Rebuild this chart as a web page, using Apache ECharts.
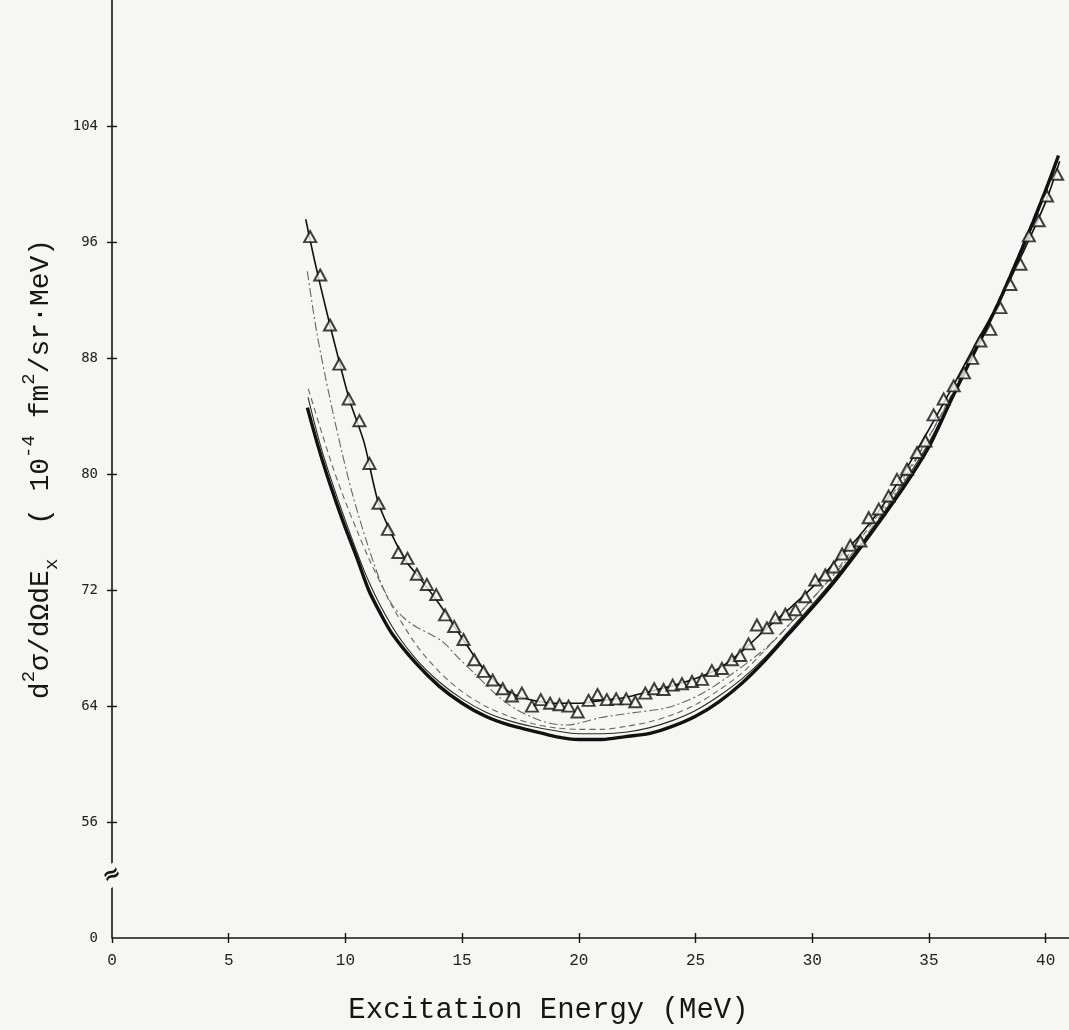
<!DOCTYPE html>
<html>
<head>
<meta charset="utf-8">
<script src="https://cdn.jsdelivr.net/npm/echarts@6/dist/echarts.min.js"></script>
<style>
html,body{margin:0;padding:0;background:#f6f6f4;}
#chart{width:1069px;height:1030px;}
</style>
</head>
<body>
<div id="chart"></div>
<script>
// ---- tick labels ----
const xTickValues = [0, 5, 10, 15, 20, 25, 30, 35, 40];
const yTickValues = [0, 56, 64, 72, 80, 88, 96, 104];

// ---- experimental points (triangles) ----
const expX = [8.49, 8.92, 9.34, 9.74, 10.14, 10.6, 11.03, 11.42, 11.82, 12.27, 12.66, 13.06, 13.49, 13.89, 14.27, 14.66, 15.06, 15.52, 15.92, 16.31, 16.74, 17.13, 17.56, 17.99, 18.37, 18.77, 19.17, 19.56, 19.95, 20.42, 20.8, 21.2, 21.6, 22.03, 22.42, 22.85, 23.23, 23.63, 24.02, 24.42, 24.85, 25.28, 25.7, 26.13, 26.56, 26.91, 27.27, 27.63, 28.06, 28.42, 28.85, 29.28, 29.7, 30.13, 30.56, 30.92, 31.28, 31.63, 32.06, 32.42, 32.85, 33.27, 33.63, 34.06, 34.49, 34.85, 35.2, 35.63, 36.06, 36.5, 36.85, 37.2, 37.63, 38.06, 38.49, 38.92, 39.28, 39.7, 40.06, 40.49];
const expY = [96.4, 93.75, 90.3, 87.6, 85.2, 83.7, 80.75, 78.0, 76.2, 74.6, 74.2, 73.1, 72.4, 71.7, 70.3, 69.5, 68.6, 67.2, 66.4, 65.8, 65.2, 64.7, 64.9, 64.0, 64.45, 64.2, 64.1, 64.0, 63.6, 64.4, 64.8, 64.45, 64.5, 64.5, 64.3, 64.9, 65.2, 65.15, 65.45, 65.55, 65.7, 65.85, 66.45, 66.6, 67.2, 67.5, 68.3, 69.6, 69.4, 70.1, 70.35, 70.65, 71.55, 72.7, 73.05, 73.6, 74.5, 75.1, 75.4, 77.0, 77.6, 78.5, 79.65, 80.35, 81.5, 82.3, 84.1, 85.2, 86.1, 87.0, 88.0, 89.2, 90.0, 91.5, 93.1, 94.5, 96.45, 97.5, 99.2, 100.7];

// ---- fitted curve through the points (thin solid) ----
const fitX = [8.3, 8.7, 9.2, 9.7, 10.2, 10.8, 11.4, 12, 12.6, 13.2, 14, 15, 16, 17, 18, 19, 20, 21, 22, 23, 24, 25, 26, 27, 28, 29, 30, 31, 32, 33, 34, 35, 36, 37, 38, 39, 40, 40.6];
const fitY = [97.6, 94.6, 91.2, 88.0, 85.0, 82.2, 78.1, 75.8, 74.0, 72.8, 71.1, 68.7, 66.4, 65.0, 64.4, 64.2, 64.2, 64.4, 64.6, 65.0, 65.4, 65.9, 66.6, 67.8, 69.3, 70.7, 72.2, 74.0, 75.7, 77.8, 80.3, 83.1, 86.0, 89.0, 91.9, 95.2, 98.8, 101.6];

// ---- dash-dot curve (with shoulder) ----
const curveAX = [8.37, 8.77, 9.34, 9.84, 10.34, 10.9, 11.5, 12.0, 12.5, 13.0, 13.6, 14.2, 14.8, 15.5, 16.6, 17.3, 18.05, 18.8, 19.5, 20.2, 20.9, 22.35, 23.8, 25.2, 26.63, 28, 29, 30, 32, 34, 36, 38, 40, 40.5];
const curveAY = [94.0, 89.8, 85.2, 81.6, 78.4, 75.4, 72.6, 71.0, 70.1, 69.5, 69.0, 68.4, 67.4, 66.3, 64.6, 63.8, 63.2, 62.8, 62.7, 62.9, 63.2, 63.55, 63.9, 64.8, 66.3, 68.0, 69.6, 71.4, 75.1, 79.8, 85.5, 91.8, 99.5, 101.6];

// ---- dashed curve ----
const curveBX = [8.41, 9, 9.5, 10, 10.5, 11, 11.5, 12, 13, 14, 15, 16, 17, 18, 19, 20, 21, 22, 23, 24, 25, 26, 27, 28, 29, 30, 31, 32, 33, 34, 35, 36, 37, 38, 39, 40, 40.5];
const curveBY = [85.9, 82.8, 80.3, 78.1, 76.1, 74.2, 72.5, 70.9, 68.3, 66.4, 65.0, 64.0, 63.3, 62.8, 62.5, 62.4, 62.4, 62.6, 62.9, 63.4, 64.1, 65.1, 66.3, 67.9, 69.6, 71.4, 73.3, 75.4, 77.6, 80.0, 82.6, 85.6, 88.8, 92.1, 95.8, 99.8, 101.8];

// ---- thick solid curve ----
const curveCX = [8.37, 8.8, 9.2, 9.6, 10, 10.5, 11, 11.5, 12, 13, 14, 15, 16, 17, 18, 19, 20, 21, 22, 23, 24, 25, 26, 27, 28, 29, 30, 31, 32, 33, 34, 35, 36, 37, 38, 39, 40, 40.55];
const curveCY = [84.6, 82.1, 80.0, 78.1, 76.3, 74.2, 72.0, 70.4, 69.0, 67.0, 65.4, 64.2, 63.3, 62.7, 62.3, 61.9, 61.7, 61.7, 61.9, 62.1, 62.6, 63.3, 64.3, 65.6, 67.2, 69.0, 70.8, 72.7, 74.8, 77.0, 79.3, 81.9, 85.3, 88.6, 91.9, 95.6, 99.6, 102.0];

// ---- thin solid curve next to the thick one ----
const curveDX = [8.4, 9, 10, 11, 12, 13, 14, 15, 16, 17, 18, 19, 20, 21, 22, 23, 24, 25, 26, 27, 28, 29, 30, 31, 32, 33, 34, 35, 36, 37, 38, 39, 40, 40.5];
const curveDY = [85.3, 81.6, 76.8, 72.6, 69.5, 67.3, 65.7, 64.5, 63.6, 63.0, 62.6, 62.3, 62.1, 62.1, 62.2, 62.5, 63.0, 63.7, 64.7, 65.9, 67.4, 69.2, 71.0, 72.9, 75.0, 77.2, 79.6, 82.2, 85.4, 88.7, 92.0, 95.7, 99.7, 101.8];

const zip = (xs, ys) => xs.map((x, i) => [x, ys[i]]);
const INK = '#161616';
const BG = '#f6f6f4';
const MONO = '"Liberation Mono", "DejaVu Sans Mono", monospace';

const chart = echarts.init(document.getElementById('chart'), null, {renderer: 'canvas'});

const lineBase = {type: 'line', showSymbol: false, symbol: 'none', smooth: 0.3, silent: true, xAxisIndex: 0, yAxisIndex: 0};

const xCommon = {type: 'value', min: 0, max: 41, interval: 5, splitLine: {show: false}};
const yCommon = {type: 'value', min: 0, max: 112.73, interval: 8, breaks: [{start: 0, end: 56, gap: 8}], breakArea: {show: false}, splitLine: {show: false}};

const option = {
  backgroundColor: BG,
  animation: false,
  grid: {left: 112, right: 0, top: 0, bottom: 90, containLabel: false},
  xAxis: [
    Object.assign({}, xCommon, {
      axisLine: {show: true, onZero: false, lineStyle: {color: INK, width: 1.6}},
      axisTick: {show: true, length: 5, lineStyle: {color: INK, width: 1.4}, customValues: xTickValues},
      axisLabel: {customValues: xTickValues, fontFamily: MONO, fontSize: 16, color: '#222', margin: 15},
      name: 'Excitation Energy (MeV)', nameLocation: 'middle', nameGap: 58,
      nameTextStyle: {fontFamily: MONO, fontSize: 29, color: INK, padding: [0, 84, 0, 0]}
    }),
    Object.assign({}, xCommon, {
      position: 'bottom',
      axisLine: {show: false},
      axisTick: {show: true, inside: true, length: 5, lineStyle: {color: INK, width: 1.4}, customValues: xTickValues.slice(1)},
      axisLabel: {show: false}
    })
  ],
  yAxis: [
    Object.assign({}, yCommon, {
      axisLine: {show: true, onZero: false, lineStyle: {color: INK, width: 1.6}},
      axisTick: {show: true, length: 5, lineStyle: {color: INK, width: 1.4}, customValues: yTickValues.slice(1)},
      axisLabel: {customValues: yTickValues, fontFamily: '"DejaVu Sans Mono", monospace', fontSize: 14, color: '#222', margin: 14},
      name: '{m|d}{sup|2}{m|σ/dΩdE}{sub|x}{m|  ( 10}{sup|-4}{m| fm}{sup|2}{m|/sr·MeV)}',
      nameLocation: 'middle', nameRotate: 90, nameGap: 44,
      nameTextStyle: {
        color: INK,
        rich: {
          m: {fontFamily: MONO, fontSize: 28, color: INK, lineHeight: 42},
          sup: {fontFamily: MONO, fontSize: 19, color: INK, verticalAlign: 'top', lineHeight: 42},
          sub: {fontFamily: MONO, fontSize: 19, color: INK, verticalAlign: 'bottom', lineHeight: 42}
        }
      }
    }),
    Object.assign({}, yCommon, {
      position: 'left',
      axisLine: {show: false},
      axisTick: {show: true, inside: true, length: 5, lineStyle: {color: INK, width: 1.4}, customValues: yTickValues.slice(1)},
      axisLabel: {show: false}
    })
  ],
  series: [
    Object.assign({}, lineBase, {name: 'thin', data: zip(curveDX, curveDY), lineStyle: {color: '#2a2a2a', width: 1.1}, z: 2}),
    Object.assign({}, lineBase, {name: 'dashed', data: zip(curveBX, curveBY), lineStyle: {color: '#666', width: 1.1, type: [6, 4]}, z: 2}),
    Object.assign({}, lineBase, {name: 'dashdot', data: zip(curveAX, curveAY), lineStyle: {color: '#666', width: 1.1, type: [9, 3, 2, 3]}, z: 2}),
    Object.assign({}, lineBase, {name: 'thick', data: zip(curveCX, curveCY), lineStyle: {color: '#111', width: 3.4}, z: 3}),
    Object.assign({}, lineBase, {name: 'fit', data: zip(fitX, fitY), lineStyle: {color: '#111', width: 1.6}, z: 4}),
    {
      type: 'scatter', name: 'data', data: zip(expX, expY), symbol: 'triangle', symbolSize: [12, 11],
      xAxisIndex: 0, yAxisIndex: 0,
      itemStyle: {color: BG, borderColor: '#111', borderWidth: 2}, z: 5, silent: true
    }
  ]
};
chart.setOption(option);

// continuous axis line across the break, plus the break mark
const p0 = chart.convertToPixel({yAxisIndex: 0}, 0);
const p56 = chart.convertToPixel({yAxisIndex: 0}, 56);
const px = chart.convertToPixel({xAxisIndex: 0}, 0);
if (isFinite(p0) && isFinite(p56) && isFinite(px)) {
  chart.setOption({
    graphic: [
      {type: 'line', shape: {x1: px, y1: p0, x2: px, y2: p56}, style: {stroke: INK, lineWidth: 1.6}, z: 9, silent: true},
      {
        type: 'text', x: px, y: p0 + (p56 - p0) * 0.54,
        style: {text: '≈', font: 'bold 22px "DejaVu Sans"', fill: INK, align: 'center', verticalAlign: 'middle', backgroundColor: BG},
        rotation: 0.45, z: 10, silent: true
      }
    ]
  });
}
</script>
</body>
</html>
